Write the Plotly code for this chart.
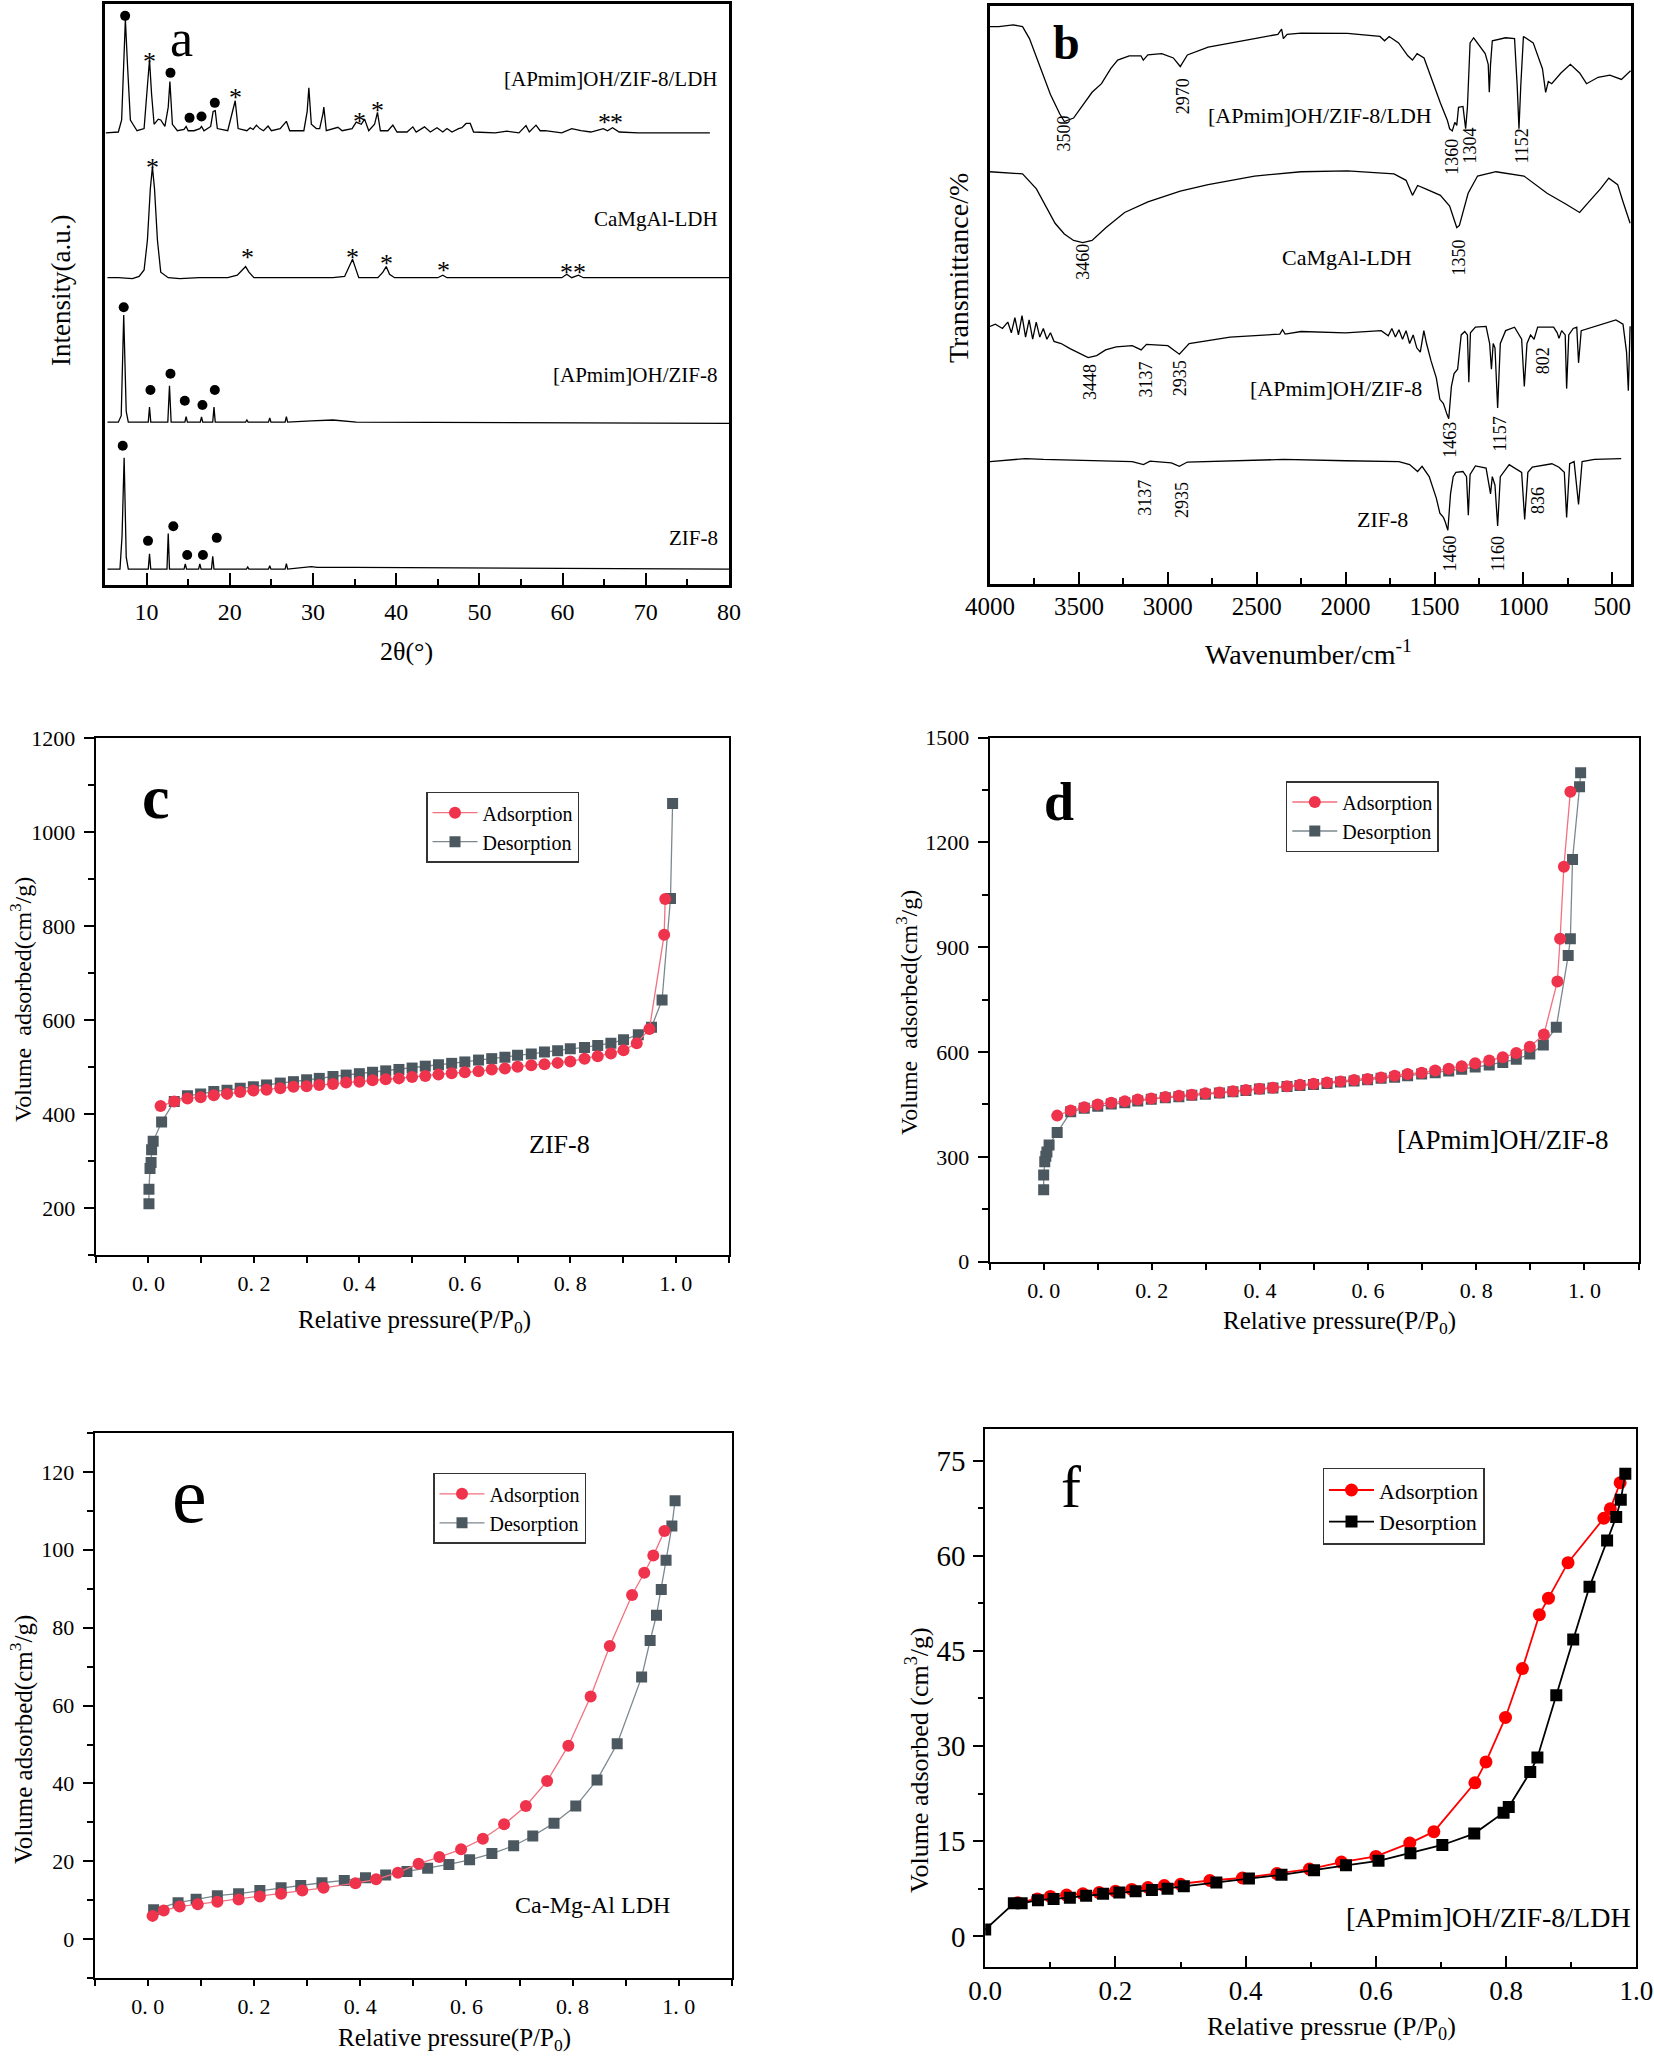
import plotly.graph_objects as go

W, H = 1654, 2060
FONT = "Liberation Serif"

# ---------------- (a) XRD patterns ----------------
xrd_ldh_comp_x = [5.1, 6.6, 7.0, 7.25, 7.45, 7.7, 8.05, 8.85, 9.7, 10.1,
                  10.35, 10.6, 10.9, 11.4, 11.7, 12.2, 12.6, 12.8, 13.1, 13.7,
                  14.5, 14.75, 15.0, 15.7, 16.4, 16.6, 16.9, 17.7, 18.0, 18.25,
                  18.5, 19.75, 20.4, 20.65, 21.0, 22.05, 22.45, 22.8, 23.2, 23.6,
                  24.05, 24.6, 25.0, 25.6, 26.05, 26.8, 27.2, 28.9, 29.3, 29.5,
                  29.8, 30.4, 30.8, 31.2, 31.3, 31.6, 32.4, 33.0, 33.5, 34.7,
                  35.2, 35.8, 36.2, 36.7, 37.4, 37.75, 38.1, 39.0, 39.6, 40.1,
                  41.3, 42.0, 42.4, 43.4, 44.1, 44.9, 45.6, 46.1, 46.7, 47.5,
                  47.9, 48.4, 48.9, 49.3, 51.9, 53.3, 54.75, 55.6, 56.0, 56.8,
                  57.3, 57.9, 59.9, 61.1, 62.2, 63.4, 64.9, 65.4, 66.0, 66.8,
                  69.1, 72.5, 77.7]
xrd_ldh_comp_i = [0, 2, 30, 160, 265, 160, 30, 5, 10, 110,
                  170, 90, 20, 32, 30, 15, 60, 120, 20, 5,
                  8, 15, 5, 5, 10, 15, 5, 15, 50, 52,
                  10, 5, 55, 75, 10, 5, 12, 8, 18, 10,
                  5, 16, 5, 8, 10, 27, 5, 5, 50, 105,
                  20, 10, 10, 45, 60, 5, 10, 13, 5, 10,
                  25, 20, 32, 5, 20, 48, 5, 5, 18, 2,
                  2, 14, 2, 14, 2, 12, 2, 10, 2, 10,
                  12, 22, 22, 2, 0, 4, 0, 17, 2, 18,
                  5, 5, 0, 10, 5, 2, 10, 5, 12, 2,
                  0, 0, 0]

xrd_ldh_x = [5.3, 6.6, 8.3, 9.1, 9.7, 10.1, 10.45, 10.7, 10.95, 11.3,
             11.7, 12.6, 14.0, 16.3, 19.75, 20.9, 21.5, 21.9, 22.3, 22.9,
             26.6, 32.4, 33.8, 34.4, 34.75, 35.1, 35.5, 37.8, 38.4, 38.8,
             39.2, 39.8, 45.0, 45.6, 46.1, 59.9, 60.5, 61.1, 61.9, 62.5, 80.0]
xrd_ldh_i = [0, 0, -2, 3, 18, 88, 208, 258, 208, 88,
             13, 0, -2, 0, 0, 6, 18, 26, 13, 0,
             0, 0, 3, 28, 43, 23, 0, 0, 13, 26,
             8, 0, 0, 6, 0, 0, 8, 0, 6, 0, 0]

xrd_il_zif_x = [5.3, 6.6, 6.95, 7.25, 7.55, 7.8, 10.2, 10.35, 10.5, 12.55,
                12.75, 12.95, 14.6, 14.75, 14.9, 16.45, 16.6, 16.75, 17.95, 18.1,
                18.25, 21.9, 22.05, 22.2, 24.65, 24.8, 24.95, 26.65, 26.8, 26.95,
                29.8, 32.4, 35.2, 80.0]
xrd_il_zif_i = [3, 3, 18, 253, 28, 3, 3, 38, 3, 3,
                88, 3, 3, 16, 3, 3, 15, 3, 3, 38,
                3, 3, 8, 3, 3, 13, 3, 3, 16, 3,
                6, 8, 3, 0]

xrd_zif_x = [5.3, 6.8, 7.05, 7.3, 7.55, 7.8, 10.2, 10.35, 10.5, 12.45,
             12.6, 12.75, 14.5, 14.65, 14.8, 16.25, 16.4, 16.55, 17.8, 17.95,
             18.1, 22.0, 22.15, 22.3, 24.65, 24.8, 24.95, 26.65, 26.8, 26.95,
             29.8, 30.5, 32.4, 35.0, 80.0]
xrd_zif_i = [0, 0, 78, 260, 28, 0, 0, 36, 0, 0,
             83, 0, 0, 12, 0, 0, 12, 0, 0, 30,
             0, 0, 5, 0, 0, 8, 0, 0, 13, 0,
             6, 4, 4, 4, 0]

xrd_names = ["[APmim]OH/ZIF-8/LDH", "CaMgAl-LDH", "[APmim]OH/ZIF-8", "ZIF-8"]

# ZIF-8 reflections (dots) and LDH reflections (asterisks)
dot_tt = [7.42, 12.87, 15.16, 16.6, 18.2,
          7.25, 10.46, 12.87, 14.59, 16.71, 18.2,
          7.13, 10.17, 13.21, 14.88, 16.77, 18.43]
dot_y = [1328, 1195, 1090, 1093, 1125,
         648, 455, 493, 430, 420, 455,
         325, 103, 137, 70, 70, 110]
star_tt = [10.29, 20.73, 35.53, 37.71, 65.08, 66.51,
           10.69, 22.16, 34.79, 38.86, 45.69, 60.49, 62.04]
star_y = [1237, 1155, 1097, 1123, 1095, 1095,
          990, 780, 780, 767, 750, 745, 745]

# ---------------- (b) FTIR spectra ----------------
ftir_ldh_comp_wn = [4000, 3950, 3870, 3817, 3778, 3713, 3660, 3608, 3582, 3530,
                    3478, 3426, 3373, 3321, 3282, 3217, 3151, 3138, 3112, 3034,
                    2969, 2930, 2890, 2773, 2512, 2381, 2360, 2350, 2329, 2251,
                    1990, 1807, 1781, 1755, 1702, 1650, 1624, 1598, 1559, 1520,
                    1467, 1428, 1415, 1400, 1386, 1375, 1365, 1340, 1325, 1315,
                    1300, 1280, 1260, 1240, 1215, 1198, 1192, 1185, 1175, 1100,
                    1050, 1035, 1025, 1015, 1000, 945, 893, 875, 860, 841,
                    789, 736, 684, 645, 580, 514, 449, 397]
ftir_ldh_comp_t = [133.8, 133.8, 134.2, 133.8, 131, 124, 118, 113.5, 111.7, 112.5,
                   115.5, 118.5, 120.5, 124, 126, 127, 127, 126, 127.2, 127.5,
                   126.5, 124.5, 127.2, 129, 131, 132, 133.2, 131, 132, 132.3,
                   132.2, 131.5, 130.5, 131.5, 130, 127, 126, 127.5, 126.5, 122,
                   116, 112, 110, 109.5, 111.5, 110.8, 115, 115.2, 110, 115,
                   130, 131.2, 130, 129, 127.5, 125, 118.5, 125, 130.5, 131.2,
                   131, 120, 110, 120, 131.5, 130, 124, 118.5, 121, 120.5,
                   123, 125, 123, 120.5, 122, 122.5, 121.5, 123.5]

ftir_ldh_wn = [4000, 3900, 3817, 3739, 3687, 3634, 3582, 3530, 3478, 3426,
               3347, 3243, 3112, 2930, 2773, 2512, 2251, 1990, 1728, 1660,
               1624, 1595, 1550, 1467, 1415, 1375, 1360, 1311, 1258, 1154,
               997, 867, 762, 684, 632, 567, 520, 470, 440, 400]
ftir_ldh_t = [100, 99.8, 99.5, 96, 92, 88, 85.5, 84, 83.5, 84,
              87, 90.5, 93, 95.5, 97, 99, 100, 100.2, 99.5, 98,
              94.5, 96.8, 96, 94.5, 92, 87, 87.5, 95, 99, 100,
              99, 95, 92.5, 90.5, 93, 96, 98.5, 97, 93, 88]

ftir_il_zif_wn = [4000, 3970, 3930, 3900, 3880, 3860, 3840, 3820, 3800, 3780,
                  3760, 3740, 3720, 3700, 3680, 3660, 3640, 3600, 3550, 3500,
                  3448, 3400, 3350, 3290, 3200, 3150, 3120, 3000, 2935, 2880,
                  2650, 2370, 2355, 2340, 2250, 2000, 1900, 1800, 1760, 1740,
                  1720, 1700, 1680, 1660, 1640, 1620, 1600, 1580, 1560, 1545,
                  1520, 1490, 1470, 1450, 1430, 1420, 1405, 1390, 1370, 1350,
                  1330, 1315, 1307, 1298, 1270, 1210, 1190, 1180, 1170, 1160,
                  1145, 1130, 1100, 1050, 1010, 995, 980, 960, 940, 920,
                  830, 810, 800, 785, 765, 757, 745, 720, 700, 690,
                  675, 600, 480, 440, 420, 410, 400]
ftir_il_zif_t = [64, 64.5, 63.5, 65, 62.5, 66, 62, 66.5, 61.5, 65.5,
                 61, 65, 61.5, 63.5, 61, 62.5, 60.5, 60, 58.8, 57.8,
                 56.7, 57.2, 58.5, 59.2, 59.5, 58.5, 59.8, 59.5, 57.5, 60,
                 61.5, 62.2, 63.2, 62.2, 62.8, 62.5, 62.8, 63, 61.8, 63.5,
                 61.5, 63.2, 61, 63, 60, 62, 59, 58, 63, 60,
                 56, 52, 47, 46, 43.5, 42.5, 50, 53, 54, 62,
                 62.8, 62, 51, 62.5, 63.8, 64, 60, 54, 60, 59,
                 45, 60, 63, 63.8, 61, 50, 60, 62, 61, 63.8,
                 63.8, 62.5, 61.2, 63, 62, 49.5, 62, 63.5, 63.8, 55.5,
                 63, 64, 65.5, 64.5, 58, 49, 64]

ftir_zif_wn = [4000, 3800, 3700, 3500, 3200, 3137, 3100, 2980, 2935, 2890,
               2500, 2350, 2000, 1700, 1640, 1595, 1570, 1530, 1490, 1470,
               1450, 1440, 1425, 1410, 1395, 1380, 1340, 1320, 1310, 1300,
               1270, 1210, 1185, 1175, 1160, 1145, 1130, 1080, 1010, 993,
               975, 950, 840, 800, 770, 757, 740, 715, 690, 670,
               600, 450]
ftir_zif_t = [32.5, 33.2, 33, 32.8, 32.5, 31.8, 32.6, 32.2, 31.4, 32.4,
              32.8, 33, 32.7, 32.5, 31.8, 30.2, 31.4, 29, 24, 20.5,
              19.5, 18.5, 16.5, 25, 29, 30, 30.2, 29, 20, 29.5,
              31.5, 31, 25, 29, 27, 17.5, 29, 31.8, 30, 19,
              30, 31.2, 32, 31.2, 30, 19.5, 32, 32.5, 22.5, 32.5,
              33, 33.2]

band_text = ["3500", "2970", "1360", "1304", "1152", "3460", "1350",
             "3448", "3137", "2935", "1463", "1157", "802",
             "3137", "2935", "1460", "1160", "836"]
band_wn = [3582, 2916, 1402, 1303, 1010, 3478, 1363,
           3439, 3125, 2930, 1415, 1133, 893,
           3125, 2916, 1415, 1141, 919]
band_t = [109, 117.5, 103.5, 106, 106, 79, 80,
          51, 51.5, 52, 37.5, 39, 56,
          24, 23.5, 11, 11, 23.5]

# ---------------- (c) ZIF-8 isotherm ----------------
c_ads_p = [0.023, 0.049, 0.074, 0.099, 0.124, 0.149, 0.174, 0.199, 0.224, 0.25,
           0.275, 0.30, 0.324, 0.35, 0.375, 0.40, 0.425, 0.45, 0.475, 0.50,
           0.525, 0.55, 0.575, 0.60, 0.626, 0.651, 0.676, 0.70, 0.726, 0.751,
           0.776, 0.80, 0.827, 0.852, 0.877, 0.901, 0.926, 0.95, 0.978, 0.98]
c_ads_v = [417, 427, 433, 436, 440, 443, 447, 450, 452, 455,
           458, 459, 462, 464, 467, 469, 472, 474, 476, 479,
           481, 484, 487, 489, 491, 495, 497, 501, 504, 506,
           509, 512, 518, 523, 529, 536, 551, 581, 782, 858]
c_des_p = [0.994, 0.99, 0.974, 0.954, 0.929, 0.901, 0.877, 0.852, 0.827, 0.80,
           0.776, 0.751, 0.726, 0.70, 0.676, 0.651, 0.626, 0.60, 0.575, 0.55,
           0.525, 0.50, 0.475, 0.45, 0.425, 0.40, 0.375, 0.35, 0.324, 0.30,
           0.275, 0.25, 0.224, 0.199, 0.174, 0.149, 0.124, 0.099, 0.074, 0.049,
           0.025, 0.009, 0.006, 0.005, 0.003, 0.001, 0.001]
c_des_v = [1061, 859, 643, 585, 569, 558, 551, 546, 542, 539,
           535, 532, 528, 525, 521, 518, 515, 511, 508, 505,
           502, 498, 495, 492, 489, 486, 483, 480, 476, 473,
           469, 466, 462, 458, 455, 451, 448, 443, 439, 427,
           383, 342, 324, 297, 284, 240, 209]

# ---------------- (d) [APmim]OH/ZIF-8 isotherm ----------------
d_ads_p = [0.025, 0.05, 0.075, 0.10, 0.125, 0.15, 0.174, 0.199, 0.225, 0.25,
           0.274, 0.299, 0.325, 0.35, 0.374, 0.399, 0.424, 0.45, 0.474, 0.499,
           0.524, 0.549, 0.574, 0.599, 0.624, 0.649, 0.673, 0.699, 0.724, 0.749,
           0.773, 0.798, 0.824, 0.849, 0.874, 0.899, 0.925, 0.95, 0.955, 0.962, 0.974]
d_ads_v = [418, 433, 442, 450, 455, 459, 464, 467, 471, 475,
           478, 482, 484, 488, 491, 495, 498, 502, 506, 509,
           513, 516, 520, 523, 527, 532, 537, 541, 547, 552,
           559, 568, 576, 585, 597, 615, 650, 802, 924, 1130, 1345]
d_des_p = [0.993, 0.991, 0.978, 0.974, 0.97, 0.948, 0.924, 0.899, 0.874, 0.849,
           0.824, 0.798, 0.773, 0.749, 0.724, 0.699, 0.673, 0.649, 0.624, 0.599,
           0.574, 0.549, 0.524, 0.499, 0.474, 0.45, 0.424, 0.399, 0.374, 0.35,
           0.325, 0.299, 0.274, 0.25, 0.225, 0.199, 0.174, 0.15, 0.125, 0.10,
           0.075, 0.05, 0.025, 0.01, 0.006, 0.004, 0.002, 0.0, 0.0]
d_des_v = [1399, 1359, 1151, 924, 876, 671, 620, 594, 579, 570,
           563, 557, 551, 546, 541, 537, 532, 528, 525, 521,
           517, 514, 510, 507, 504, 501, 497, 494, 490, 486,
           483, 479, 476, 472, 469, 465, 460, 455, 451, 445,
           439, 429, 370, 334, 314, 302, 286, 248, 206]

# ---------------- (e) Ca-Mg-Al LDH isotherm ----------------
e_ads_p = [0.009, 0.030, 0.06, 0.094, 0.131, 0.171, 0.211, 0.251, 0.291, 0.331,
           0.391, 0.43, 0.471, 0.51, 0.549, 0.59, 0.631, 0.671, 0.712, 0.752,
           0.792, 0.834, 0.87, 0.912, 0.935, 0.952, 0.973]
e_ads_v = [6.0, 7.4, 8.4, 9.0, 9.6, 10.2, 11.0, 11.7, 12.5, 13.2,
           14.4, 15.4, 17.1, 19.4, 21.1, 23.1, 25.8, 29.5, 34.2, 40.6,
           49.7, 62.3, 75.3, 88.4, 94.1, 98.5, 104.8]
e_des_p = [0.993, 0.987, 0.976, 0.967, 0.958, 0.946, 0.930, 0.884, 0.846, 0.806,
           0.765, 0.725, 0.689, 0.648, 0.606, 0.567, 0.527, 0.488, 0.448, 0.41,
           0.37, 0.328, 0.288, 0.251, 0.211, 0.171, 0.131, 0.091, 0.057, 0.011]
e_des_v = [112.6, 106.1, 97.3, 89.8, 83.2, 76.7, 67.3, 50.2, 40.9, 34.2,
           29.8, 26.5, 24.0, 22.0, 20.4, 19.2, 18.2, 17.4, 16.5, 15.8,
           15.1, 14.5, 13.8, 13.2, 12.5, 11.7, 11.2, 10.3, 9.4, 7.6]

# ---------------- (f) [APmim]OH/ZIF-8/LDH isotherm ----------------
f_ads_p = [0.05, 0.08, 0.10, 0.125, 0.15, 0.175, 0.20, 0.225, 0.25, 0.275,
           0.30, 0.345, 0.395, 0.448, 0.498, 0.547, 0.60, 0.652, 0.689, 0.752,
           0.769, 0.799, 0.825, 0.851, 0.865, 0.895, 0.95, 0.96, 0.975]
f_ads_v = [5.3, 5.9, 6.3, 6.5, 6.7, 6.9, 7.1, 7.4, 7.7, 8.0,
           8.2, 8.8, 9.2, 9.9, 10.6, 11.7, 12.6, 14.7, 16.5, 24.2,
           27.5, 34.5, 42.2, 50.7, 53.3, 58.9, 65.9, 67.4, 71.5]
f_des_p = [0.983, 0.976, 0.969, 0.955, 0.928, 0.903, 0.877, 0.848, 0.837, 0.804,
           0.796, 0.751, 0.702, 0.653, 0.604, 0.554, 0.505, 0.455, 0.405, 0.355,
           0.305, 0.28, 0.256, 0.231, 0.206, 0.181, 0.155, 0.13, 0.105, 0.081,
           0.056, 0.044, 0.0]
f_des_v = [72.9, 68.8, 66.1, 62.4, 55.1, 46.8, 38.0, 28.2, 25.9, 20.4,
           19.5, 16.2, 14.4, 13.1, 11.9, 11.2, 10.4, 9.7, 9.1, 8.5,
           7.9, 7.5, 7.3, 7.1, 6.9, 6.7, 6.4, 6.1, 5.9, 5.7,
           5.2, 5.2, 1.07]

rel_p_ticks = [0.0, 0.2, 0.4, 0.6, 0.8, 1.0]
rel_p_labels = ["0. 0", "0. 2", "0. 4", "0. 6", "0. 8", "1. 0"]


def px(p):
    return p / W


def py(p):
    return 1 - p / H


def xd(left, right):
    return [max(0.0, px(left)), min(1.0, px(right))]


def yd(top, bottom):
    return [max(0.0, py(bottom)), min(1.0, py(top))]


fig = go.Figure()

# (a)
xrd_offsets = [1055, 717, 377, 37]
for xs, ys, off in zip([xrd_ldh_comp_x, xrd_ldh_x, xrd_il_zif_x, xrd_zif_x],
                       [xrd_ldh_comp_i, xrd_ldh_i, xrd_il_zif_i, xrd_zif_i],
                       xrd_offsets):
    fig.add_trace(go.Scatter(x=xs, y=[v + off for v in ys], mode="lines",
                             line=dict(color="black", width=1.3),
                             xaxis="x", yaxis="y", showlegend=False))
fig.add_trace(go.Scatter(x=dot_tt, y=dot_y, mode="markers",
                         marker=dict(symbol="circle", size=10, color="black"),
                         xaxis="x", yaxis="y", showlegend=False))

# (b)
for xs, ys in zip([ftir_ldh_comp_wn, ftir_ldh_wn, ftir_il_zif_wn, ftir_zif_wn],
                  [ftir_ldh_comp_t, ftir_ldh_t, ftir_il_zif_t, ftir_zif_t]):
    fig.add_trace(go.Scatter(x=xs, y=ys, mode="lines",
                             line=dict(color="black", width=1.3),
                             xaxis="x2", yaxis="y2", showlegend=False))

# (c)-(f) isotherms
RED = "#f0334d"
RED_LINE = "#f2707f"
GREY = "#4b585f"
GREY_LINE = "#7c888e"
iso = [
    ("3", "legend", c_ads_p, c_ads_v, c_des_p, c_des_v, RED, RED_LINE, GREY, GREY_LINE, 12, 11),
    ("4", "legend2", d_ads_p, d_ads_v, d_des_p, d_des_v, RED, RED_LINE, GREY, GREY_LINE, 12, 11),
    ("5", "legend3", e_ads_p, e_ads_v, e_des_p, e_des_v, RED, RED_LINE, GREY, GREY_LINE, 12, 11),
    ("6", "legend4", f_ads_p, f_ads_v, f_des_p, f_des_v, "#ff0000", "#ff0000", "black", "black", 13, 12),
]
for k, leg, ap, av, dp, dv, mc, lc, dmc, dlc, ms, ss in iso:
    des = go.Scatter(x=dp, y=dv, mode="lines+markers", name="Desorption",
                     line=dict(color=dlc, width=1.3 if k != "6" else 1.8),
                     marker=dict(symbol="square", size=ss, color=dmc),
                     xaxis="x" + k, yaxis="y" + k, legend=leg, legendrank=2)
    ads = go.Scatter(x=ap, y=av, mode="lines+markers", name="Adsorption",
                     line=dict(color=lc, width=1.3 if k != "6" else 1.8),
                     marker=dict(symbol="circle", size=ms, color=mc),
                     xaxis="x" + k, yaxis="y" + k, legend=leg, legendrank=1)
    # red on top in c-e, black on top in f
    if k == "6":
        fig.add_trace(ads)
        fig.add_trace(des)
    else:
        fig.add_trace(des)
        fig.add_trace(ads)

tick_font = dict(family=FONT, size=22, color="black")
base = dict(showline=True, linecolor="black", mirror=True, showgrid=False,
            zeroline=False, tickcolor="black", tickfont=tick_font, automargin=False,
            ticklabeloverflow="allow")

layout_axes = {
    "xaxis": dict(base, domain=xd(105, 729), range=[5, 80], anchor="y",
                  dtick=10, tick0=0, ticks="inside", ticklen=12, tickwidth=2,
                  linewidth=2.6, tickfont=dict(family=FONT, size=24, color="black"),
                  ticklabelstandoff=3,
                  minor=dict(ticks="inside", ticklen=6, tickwidth=2, dtick=5, tick0=0,
                             tickcolor="black")),
    "yaxis": dict(base, domain=yd(4.3, 585), range=[0, 1355], anchor="x",
                  showticklabels=False, ticks="", linewidth=2.6),
    "xaxis2": dict(base, domain=xd(990, 1631), range=[4000, 395], anchor="y2",
                   tickvals=[4000, 3500, 3000, 2500, 2000, 1500, 1000, 500],
                   ticks="inside", ticklen=12, tickwidth=2, linewidth=2.6,
                   tickfont=dict(family=FONT, size=25, color="black"),
                   ticklabelstandoff=-2,
                   minor=dict(ticks="inside", ticklen=6, tickwidth=2, dtick=250, tick0=0,
                              tickcolor="black")),
    "yaxis2": dict(base, domain=yd(6.4, 584), range=[4, 138.5], anchor="x2",
                   showticklabels=False, ticks="", linewidth=2.6),
}

iso_axes = [
    ("3", xd(95.7, 728.5), yd(738.3, 1255), [100, 1200], 200, 100, 2),
    ("4", xd(989.6, 1638.5), yd(737.5, 1261.7), [0, 1500], 300, 150, 2),
    ("5", xd(94.7, 731.9), yd(1432.9, 1978.2), [-10, 130], 20, 10, 1),
]
for k, dx, dy, yr, dt, mdt, so in iso_axes:
    layout_axes["xaxis" + k] = dict(base, domain=dx, range=[-0.1, 1.1], anchor="y" + k,
                                    tickvals=rel_p_ticks, ticktext=rel_p_labels,
                                    ticks="outside", ticklen=6, tickwidth=2, linewidth=2,
                                    ticklabelstandoff=so,
                                    minor=dict(ticks="outside", ticklen=6, tickwidth=2,
                                               tickvals=[-0.1, 0.1, 0.3, 0.5, 0.7, 0.9, 1.1],
                                               tickcolor="black"))
    layout_axes["yaxis" + k] = dict(base, domain=dy, range=yr, anchor="x" + k,
                                    dtick=dt, tick0=0, ticks="outside", ticklen=10,
                                    tickwidth=2, linewidth=2, ticklabelstandoff=4,
                                    minor=dict(ticks="outside", ticklen=6, tickwidth=2,
                                               dtick=mdt, tick0=0, tickcolor="black"))

f_font = dict(family=FONT, size=27, color="black")
layout_axes["xaxis6"] = dict(base, domain=xd(985.2, 1636.4), range=[0, 1.0], anchor="y6",
                             dtick=0.2, tick0=0, tickformat=".1f", ticks="inside",
                             ticklen=11, tickwidth=2, linewidth=2, tickfont=f_font,
                             ticklabelstandoff=-1,
                             minor=dict(ticks="inside", ticklen=5, tickwidth=2, dtick=0.1,
                                        tick0=0, tickcolor="black"))
layout_axes["yaxis6"] = dict(base, domain=yd(1428.8, 1966.8), range=[-4.8, 80], anchor="x6",
                             dtick=15, tick0=0, ticks="outside", ticklen=10, tickwidth=2,
                             linewidth=2, tickfont=dict(family=FONT, size=29, color="black"),
                             ticklabelstandoff=2,
                             minor=dict(ticks="outside", ticklen=5, tickwidth=2, dtick=7.5,
                                        tick0=0, tickcolor="black"))

ann = []


def txt(x, y, s, size, xref="paper", yref="paper", angle=0, bold=False, **kw):
    if bold:
        s = "<b>" + s + "</b>"
    if xref == "paper":
        x = px(x)
    if yref == "paper":
        y = py(y)
    kw.setdefault("xanchor", "center")
    kw.setdefault("yanchor", "middle")
    ann.append(dict(x=x, y=y, xref=xref, yref=yref, text=s, showarrow=False,
                    textangle=angle, font=dict(family=FONT, size=size, color="black"), **kw))


# (a) texts
txt(14.2, 1275, "a", 52, "x", "y")
for name, yy in zip(xrd_names, [1180, 853, 490, 110]):
    txt(78.9, yy, name, 21, "x", "y", xanchor="right")
for tt, yy in zip(star_tt, star_y):
    txt(tt, yy, "*", 26, "x", "y", yshift=-7)
txt(406, 651, "2θ(°)", 26)
txt(61, 291, "Intensity(a.u.)", 27, angle=-90)

# (b) texts
txt(3569, 130, "b", 48, "x2", "y2", bold=True)
for s, wn, t in zip(band_text, band_wn, band_t):
    txt(wn, t, s, 18, "x2", "y2", angle=-90)
for name, wn, t in zip(xrd_names, [2146, 1990, 2055, 1794], [113, 80, 49.5, 19]):
    txt(wn, t, name, 22, "x2", "y2")
txt(1308, 652, "Wavenumber/cm<sup>-1</sup>", 28)
txt(958, 268, "Transmittance/%", 28, angle=-90)

# (c)-(f) texts
txt(0.014, 1076, "c", 62, "x3", "y3", bold=True)
txt(0.78, 335, "ZIF-8", 26, "x3", "y3")
txt(414, 1321, "Relative pressure(P/P<sub>0</sub>)", 25)
txt(21, 1000, "Volume  adsorbed(cm<sup>3</sup>/g)", 24, angle=-90)

txt(0.028, 1315, "d", 54, "x4", "y4", bold=True)
txt(0.849, 349, "[APmim]OH/ZIF-8", 27, "x4", "y4")
txt(1339, 1322, "Relative pressure(P/P<sub>0</sub>)", 25)
txt(907, 1012, "Volume  adsorbed(cm<sup>3</sup>/g)", 24, angle=-90)

txt(0.078, 114, "e", 78, "x5", "y5")
txt(0.837, 8.9, "Ca-Mg-Al LDH", 24, "x5", "y5")
txt(454, 2039, "Relative pressure(P/P<sub>0</sub>)", 25)
txt(21, 1740, "Volume adsorbed(cm<sup>3</sup>/g)", 25, angle=-90)

txt(0.132, 70.9, "f", 60, "x6", "y6")
txt(1633, 1917, "[APmim]OH/ZIF-8/LDH", 28, xanchor="right")
txt(1331, 2028, "Relative pressrue (P/P<sub>0</sub>)", 26)
txt(917, 1760, "Volume adsorbed (cm<sup>3</sup>/g)", 26, angle=-90)


def leg(x, y, size):
    return dict(x=px(x), y=py(y), xanchor="left", yanchor="top",
                bordercolor="#333333", borderwidth=1.5, bgcolor="white",
                font=dict(family=FONT, size=size, color="black"),
                itemwidth=45, tracegroupgap=0)


fig.update_layout(
    template="none",
    font=dict(family=FONT, color="black"),
    width=W, height=H, margin=dict(l=0, r=0, t=0, b=0, pad=0),
    plot_bgcolor="white", paper_bgcolor="white",
    annotations=ann,
    showlegend=True,
    legend=leg(426, 791.7, 20),
    legend2=leg(1285.8, 781, 20),
    legend3=leg(433, 1472.8, 20),
    legend4=leg(1322.5, 1467.7, 22),
    **layout_axes,
)

# the page body has a default 8 px margin; drop it so the figure fills the window
fig.write_html("out.html", config={"displayModeBar": False},
               post_script="document.body.style.margin = '0px';")
